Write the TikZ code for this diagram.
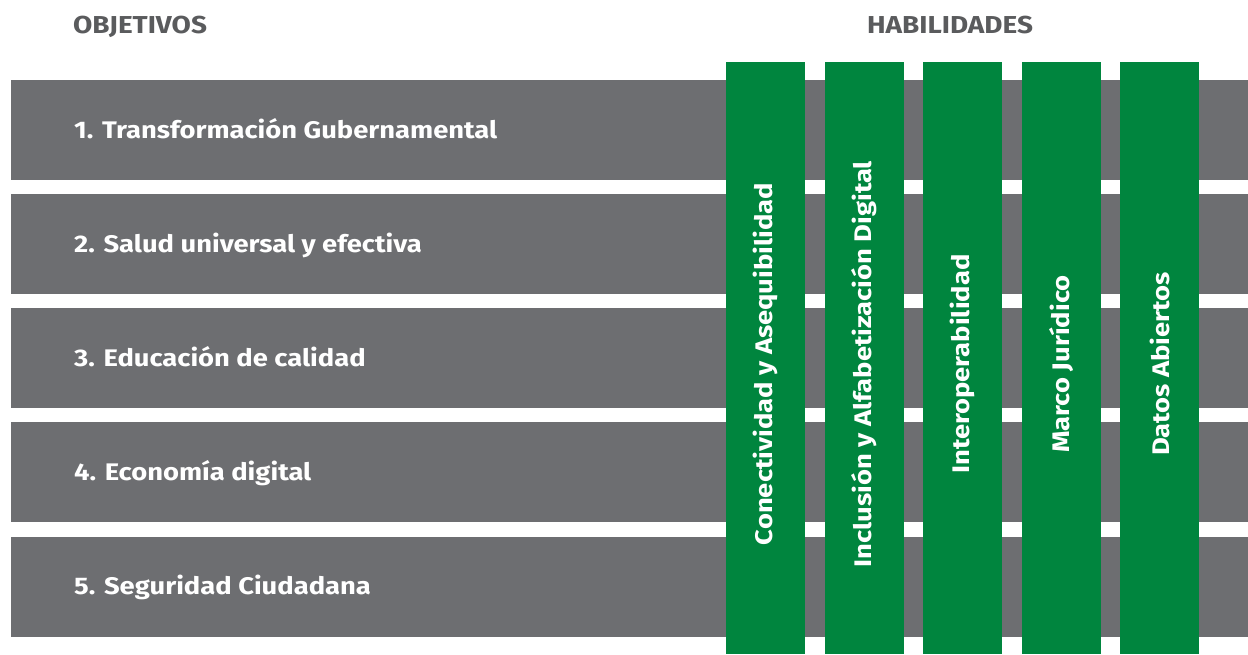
\documentclass[tikz,border=0pt]{standalone}
\usepackage{fontspec}
\setmainfont[FakeStretch=1.14]{Fira Sans}
\definecolor{barGray}{HTML}{6D6E71}
\definecolor{headGray}{HTML}{5A5B5D}
\definecolor{colGreen}{HTML}{00853E}
\tikzset{
  rowtext/.style={anchor=base west, text=white, font=\fontsize{24}{24}\selectfont\bfseries, inner sep=0pt},
  coltext/.style={rotate=90, text=white, font=\fontsize{24}{24}\selectfont\bfseries, inner sep=0pt},
  headtext/.style={text=headGray, font=\fontsize{24.5}{24.5}\selectfont\bfseries, inner sep=0pt}
}
\begin{document}
\begin{tikzpicture}[x=1pt,y=-1pt]
  \useasboundingbox (0,0) rectangle (1248,654);
  % headers
  \node[headtext, anchor=base west] (objetivos) at (73,33) {OBJETIVOS};
  \node[headtext, anchor=base] (habilidades) at (950,33) {HABILIDADES};
  % objective rows
  \foreach \i/\txt in {0/1. Transformación Gubernamental, 1/2. Salud universal y efectiva,
      2/3. Educación de calidad, 3/4. Economía digital, 4/5. Seguridad Ciudadana}{
    \fill[barGray] (11,80+114.15*\i) rectangle (1248,180+114.15*\i);
    \node[rowtext] (obj\i) at (74,138+114.15*\i) {\txt};
  }
  % skill columns
  \foreach \j/\txt in {0/Conectividad y Asequibilidad, 1/Inclusión y Alfabetización Digital,
      2/Interoperabilidad, 3/Marco Jurídico, 4/Datos Abiertos}{
    \fill[colGreen] (726+98.5*\j,62) rectangle (805+98.5*\j,654);
    \node[coltext] (hab\j) at (765.5+98.5*\j,364) {\txt};
  }
\end{tikzpicture}
\end{document}
